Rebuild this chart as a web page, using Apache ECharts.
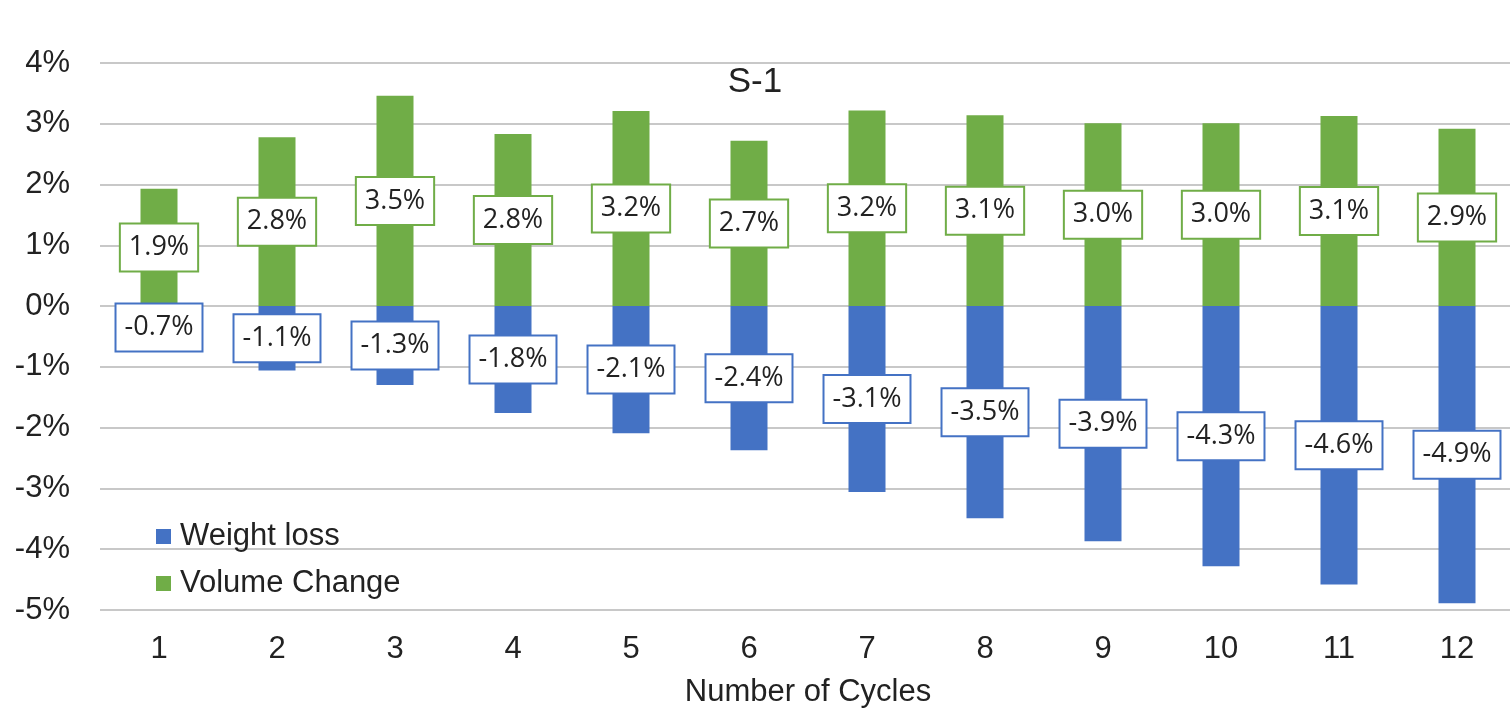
<!DOCTYPE html>
<html>
<head>
<meta charset="utf-8">
<script src="https://cdn.jsdelivr.net/npm/echarts@6/dist/echarts.min.js"></script>
<style>
  html, body { margin: 0; padding: 0; background: #fff; }
  #main { width: 1510px; height: 709px; }
</style>
</head>
<body>
<div id="main"></div>
<script>
// data (percent)
var cycles = ['1', '2', '3', '4', '5', '6', '7', '8', '9', '10', '11', '12'];
var weightLoss = [-0.70, -1.06, -1.30, -1.76, -2.09, -2.37, -3.06, -3.49, -3.87, -4.28, -4.58, -4.89];
var volumeChange = [1.93, 2.78, 3.46, 2.83, 3.21, 2.72, 3.22, 3.14, 3.01, 3.01, 3.13, 2.92];

var blue = '#4472C4';
var green = '#70AD47';

function boxLabel(color) {
    return {
        show: true,
        position: 'inside',
        formatter: function (p) { return p.value.toFixed(1) + '%'; },
        color: '#222',
        fontFamily: 'Open Sans',
        fontSize: 27,
        lineHeight: 29,
        backgroundColor: '#fff',
        borderColor: color,
        borderWidth: 2,
        padding: [9, 8, 8, 8]
    };
}

var myChart = echarts.init(document.getElementById('main'));
myChart.setOption({
    animation: false,
    title: {
        text: 'S-1',
        left: 'center',
        top: 60,
        textStyle: { fontFamily: 'Liberation Sans', fontSize: 35, fontWeight: 'normal', color: '#222' }
    },
    legend: {
        orient: 'vertical',
        left: 151,
        top: 516,
        icon: 'rect',
        itemWidth: 15,
        itemHeight: 15,
        itemGap: 16,
        textStyle: { fontFamily: 'Liberation Sans', fontSize: 31, color: '#222', padding: [0, 0, 0, 4] },
        data: ['Weight loss', 'Volume Change']
    },
    grid: { left: 100, top: 63, width: 1416, height: 547, outerBoundsMode: 'none' },
    xAxis: {
        type: 'category',
        data: cycles,
        name: 'Number of Cycles',
        nameLocation: 'middle',
        nameGap: 67,
        nameTextStyle: { fontFamily: 'Liberation Sans', fontSize: 31, color: '#222' },
        axisLine: { show: false, onZero: false },
        axisTick: { show: false },
        axisLabel: { margin: 24, fontFamily: 'Liberation Sans', fontSize: 31, color: '#222' }
    },
    yAxis: {
        type: 'value',
        min: -5,
        max: 4,
        interval: 1,
        axisLine: { show: false },
        axisTick: { show: false },
        axisLabel: {
            margin: 30,
            fontFamily: 'Liberation Sans',
            fontSize: 31,
            color: '#222',
            formatter: '{value}%'
        },
        splitLine: { lineStyle: { color: '#c8c8c8', width: 2 } }
    },
    series: [
        {
            name: 'Weight loss',
            type: 'bar',
            data: weightLoss,
            barWidth: 37,
            barGap: '-100%',
            itemStyle: { color: blue },
            label: boxLabel(blue)
        },
        {
            name: 'Volume Change',
            type: 'bar',
            data: volumeChange,
            barWidth: 37,
            itemStyle: { color: green },
            label: boxLabel(green)
        }
    ]
});
</script>
</body>
</html>
